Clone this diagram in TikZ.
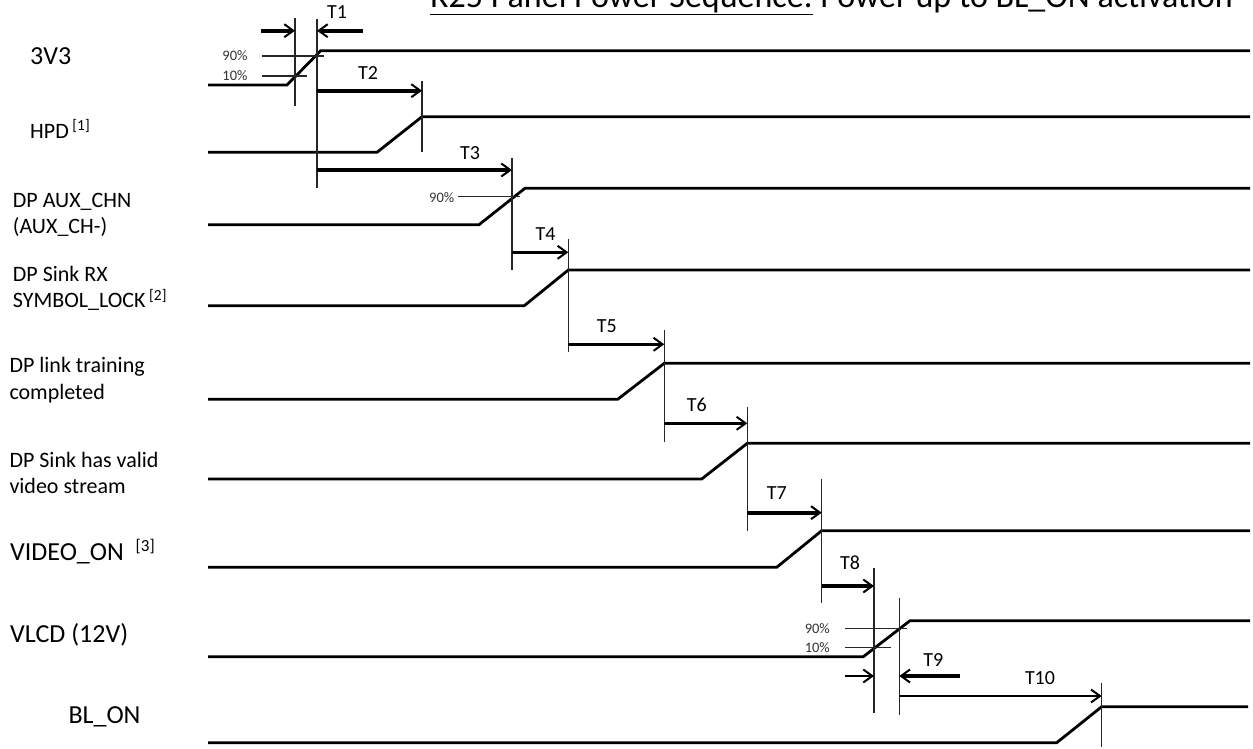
\documentclass[tikz,border=0pt]{standalone}
\usepackage{fontspec}
\setmainfont{Carlito}
\usetikzlibrary{arrows.meta}
\tikzset{
  sig/.style={line width=2.8pt, line join=miter},
  vmark/.style={line width=1.4pt, black!85},
  tickln/.style={line width=1.2pt, black!85},
  tarr/.style={line width=3.2pt, -{Straight Barb[line width=2pt, length=9pt, width=13pt]}},
  tarrb/.style={tarr, line width=4.2pt},
  tarrn/.style={tarr, line width=2.8pt},
  tlab/.style={font=\fontsize{20}{24}\selectfont, inner sep=0pt},
  pct/.style={font=\fontsize{14.5}{16}\selectfont, inner sep=0pt, text=black!80},
  biglab/.style={font=\fontsize{26}{30}\selectfont, anchor=west, inner sep=0pt},
  smlab/.style={font=\fontsize{22}{26.5}\selectfont, anchor=west, align=left, inner sep=0pt},
}
\begin{document}
\begin{tikzpicture}[x=1pt, y=-1pt]
\useasboundingbox (0,0) rectangle (1253,749);

% title (cut off by top edge, as in the reference)
\node[anchor=base west, inner sep=0pt, font=\fontsize{34}{40}\selectfont] (title) at (430,7.5)
  {\underline{R25 Panel Power Sequence:} Power up to BL\_ON activation};

% left labels
\node[biglab] (l3v3) at (30,56) {3V3};
\node[smlab] (lhpd) at (30,129) {HPD\,\textsuperscript{[1]}};
\node[smlab] (laux) at (12.7,215) {DP AUX\_CHN\\(AUX\_CH-)};
\node[smlab] (lsym) at (12.7,288.5) {DP Sink RX\\SYMBOL\_LOCK\,\textsuperscript{[2]}};
\node[smlab] (llink) at (9.3,380) {DP link training\\completed};
\node[smlab] (lvid) at (9.3,473) {DP Sink has valid\\video stream};
\node[biglab] (lvon) at (10,551.7) {VIDEO\_ON\ \ \textsuperscript{\fontsize{17}{20}\selectfont[3]}};
\node[biglab] (lvlcd) at (10,635) {VLCD (12V)};
\node[biglab] (lbl) at (68.3,717.3) {BL\_ON};

% signals
\draw[sig] (208,85) -- (287,85) -- (320.7,50.7) -- (1250,50.7);
\draw[sig] (208,152.3) -- (377,152.3) -- (422,116.7) -- (1250,116.7);
\draw[sig] (208,224.7) -- (479,224.7) -- (525,188.3) -- (1250,188.3);
\draw[sig] (208,305.7) -- (524.3,305.7) -- (568.3,270) -- (1250,270);
\draw[sig] (208,399.3) -- (617.7,399.3) -- (664.3,363.3) -- (1250,363.3);
\draw[sig] (208,479) -- (701.7,479) -- (747.3,443.3) -- (1250,443.3);
\draw[sig] (208,567.3) -- (776.7,567.3) -- (821.7,530.7) -- (1250,530.7);
\draw[sig] (208,656.7) -- (863.3,656.7) -- (910,620.7) -- (1250,620.7);
\draw[sig] (208,742.7) -- (1056.7,742.7) -- (1101.7,706.7) -- (1248,706.7);

% vertical markers
\coordinate (v1at) at (295,18);    \coordinate (v1ab) at (295,106);
\coordinate (v1bt) at (317,19);    \coordinate (v1bb) at (317,188);
\coordinate (v2t) at (422,80.7);   \coordinate (v2b) at (422,151.7);
\coordinate (v3t) at (512,158);    \coordinate (v3b) at (512,270);
\coordinate (v4t) at (568.3,239.3);\coordinate (v4b) at (568.3,351.7);
\coordinate (v5t) at (664.3,330);  \coordinate (v5b) at (664.3,441.7);
\coordinate (v6t) at (747.3,407.3);\coordinate (v6b) at (747.3,530.7);
\coordinate (v7t) at (821.7,479);  \coordinate (v7b) at (821.7,602.7);
\coordinate (v8t) at (874,568);    \coordinate (v8b) at (874,713.3);
\coordinate (v9t) at (899.3,598.3);\coordinate (v9b) at (899.3,715);
\coordinate (v10t) at (1101.7,682.7);\coordinate (v10b) at (1101.7,746.7);
\foreach \v in {v1a,v1b,v2,v3,v4,v5,v6,v7,v8,v9,v10}
  \draw[vmark] (\v t) -- (\v b);

% percent ticks
\node[pct] (p1) at (235,56) {90\%};
\node[pct] (p2) at (235,76) {10\%};
\draw[tickln] (262,56) -- (324,56);
\draw[tickln] (262,76) -- (307,76);
\node[pct] (p3) at (441.7,197.5) {90\%};
\draw[tickln] (458,196.7) -- (520,196.7);
\node[pct] (p4) at (817.3,628.3) {90\%};
\node[pct] (p5) at (817.3,647.3) {10\%};
\draw[tickln] (845,628.3) -- (907.3,628.3);
\draw[tickln] (845,647.3) -- (890.7,647.3);

% timing arrows
\draw[tarrb] (261,30.7) -- (v1at |- 0,30.7);
\draw[tarrb] (363,30.7) -- (v1bt |- 0,30.7);
\node[tlab] (t1) at (337,12) {T1};
\draw[tarrb] (v1bt |- 0,90.7) -- (v2t |- 0,90.7);
\node[tlab] (t2) at (368,73.5) {T2};
\draw[tarr] (v1bt |- 0,170) -- (v3t |- 0,170);
\node[tlab] (t3) at (470,153) {T3};
\draw[tarrn] (v3t |- 0,252.3) -- (v4t |- 0,252.3);
\node[tlab] (t4) at (545.5,234) {T4};
\draw[tarr] (v4t |- 0,344.3) -- (v5t |- 0,344.3);
\node[tlab] (t5) at (606.7,326) {T5};
\draw[tarr] (v5t |- 0,423.3) -- (v6t |- 0,423.3);
\node[tlab] (t6) at (696.7,405) {T6};
\draw[tarrb] (v6t |- 0,512.7) -- (v7t |- 0,512.7);
\node[tlab] (t7) at (776.7,493.3) {T7};
\draw[tarr] (v7t |- 0,586) -- (v8t |- 0,586);
\node[tlab] (t8) at (850,562.7) {T8};
\draw[tarrn] (845,676) -- (v8t |- 0,676);
\draw[tarrb] (960,676) -- (v9t |- 0,676);
\node[tlab] (t9) at (933.3,660) {T9};
\draw[tarrn] (v9t |- 0,696) -- (v10t |- 0,696);
\node[tlab] (t10) at (1040,678.3) {T10};
\end{tikzpicture}
\end{document}
